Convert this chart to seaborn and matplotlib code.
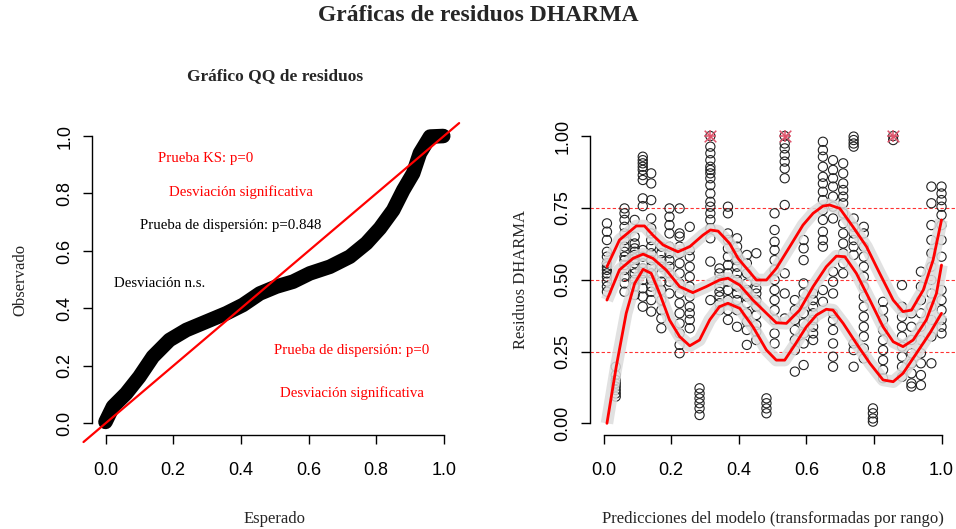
import matplotlib
matplotlib.use("Agg")
import matplotlib.pyplot as plt
import seaborn as sns
import pandas as pd

qq_expected = [0.0, 0.022, 0.061, 0.10, 0.14, 0.189, 0.239, 0.298, 0.357, 0.406,
               0.456, 0.505, 0.554, 0.604, 0.663, 0.722, 0.771, 0.811, 0.85, 0.88,
               0.909, 0.929, 0.959, 0.998]
qq_observed = [0.005, 0.058, 0.104, 0.162, 0.232, 0.29, 0.325, 0.354, 0.383, 0.412,
               0.452, 0.476, 0.493, 0.522, 0.545, 0.58, 0.627, 0.679, 0.742, 0.812,
               0.87, 0.94, 0.998, 1.0]

# residuals vs rank-transformed predictions: one column of residuals per prediction
pred_x = [0.010, 0.036, 0.062, 0.092, 0.116, 0.141, 0.171, 0.195, 0.225, 0.255,
          0.284, 0.316, 0.343, 0.368, 0.395, 0.424, 0.452, 0.482, 0.506, 0.536,
          0.566, 0.592, 0.620, 0.649, 0.679, 0.709, 0.740, 0.770, 0.797, 0.827,
          0.857, 0.883, 0.911, 0.939, 0.970, 1.0]
resid_cols = [
    [0.696, 0.667, 0.638, 0.597, 0.58, 0.557, 0.545, 0.534, 0.522, 0.51, 0.493, 0.476, 0.458],
    [0.197, 0.168, 0.151, 0.139, 0.128, 0.116, 0.104, 0.093],
    [0.748, 0.731, 0.708, 0.684, 0.661, 0.638, 0.615, 0.597, 0.58, 0.568, 0.551, 0.534, 0.51, 0.487, 0.458],
    [0.708, 0.65, 0.626, 0.609, 0.597, 0.586, 0.574, 0.557, 0.539, 0.522, 0.499, 0.476, 0.447],
    [0.928, 0.916, 0.905, 0.893, 0.882, 0.864, 0.847, 0.783, 0.756, 0.603, 0.58, 0.557, 0.539, 0.522, 0.499, 0.47, 0.441, 0.406],
    [0.87, 0.835, 0.777, 0.713, 0.679, 0.661, 0.638, 0.615, 0.592, 0.568, 0.545, 0.522, 0.499, 0.476, 0.458, 0.429, 0.389],
    [0.615, 0.592, 0.568, 0.545, 0.522, 0.493, 0.464, 0.429, 0.394, 0.365, 0.331],
    [0.748, 0.719, 0.69, 0.661, 0.615, 0.592, 0.568, 0.545, 0.522, 0.493, 0.452],
    [0.748, 0.661, 0.65, 0.615, 0.592, 0.557, 0.522, 0.487, 0.452, 0.418, 0.383, 0.348, 0.313, 0.273, 0.244],
    [0.684, 0.603, 0.58, 0.545, 0.51, 0.476, 0.441, 0.406, 0.383, 0.36, 0.331],
    [0.122, 0.104, 0.087, 0.07, 0.052, 0.029],
    [1.0, 0.963, 0.94, 0.916, 0.893, 0.882, 0.87, 0.853, 0.829, 0.8, 0.771, 0.754, 0.731, 0.708, 0.679, 0.644, 0.563, 0.429],
    [0.539, 0.522, 0.499, 0.476, 0.458, 0.441, 0.418, 0.394],
    [0.754, 0.731, 0.661, 0.638, 0.609, 0.58, 0.551, 0.522, 0.493, 0.464, 0.429, 0.394, 0.36],
    [0.644, 0.615, 0.592, 0.568, 0.545, 0.522, 0.499, 0.476, 0.452, 0.429, 0.394, 0.336],
    [0.586, 0.557, 0.522, 0.487, 0.464, 0.441, 0.418, 0.383, 0.354, 0.325, 0.273],
    [0.592, 0.493, 0.47, 0.452, 0.429, 0.406, 0.377, 0.342, 0.319, 0.29],
    [0.087, 0.07, 0.052, 0.035],
    [0.731, 0.673, 0.632, 0.603, 0.568, 0.534, 0.499, 0.464, 0.429, 0.394, 0.36, 0.313, 0.278],
    [1.0, 0.974, 0.957, 0.934, 0.911, 0.887, 0.853, 0.76, 0.522, 0.452, 0.365],
    [0.429, 0.394, 0.36, 0.325, 0.29, 0.255, 0.18],
    [0.638, 0.609, 0.568, 0.487, 0.452, 0.418, 0.383, 0.348, 0.313, 0.278, 0.203],
    [0.452, 0.429, 0.406, 0.383, 0.36, 0.336, 0.313, 0.29],
    [0.98, 0.951, 0.928, 0.893, 0.858, 0.835, 0.806, 0.777, 0.742, 0.708, 0.667, 0.638, 0.615, 0.464, 0.423],
    [0.916, 0.882, 0.853, 0.824, 0.789, 0.754, 0.713, 0.528, 0.493, 0.452, 0.383, 0.36, 0.325, 0.278, 0.232, 0.197],
    [0.905, 0.87, 0.835, 0.812, 0.789, 0.766, 0.731, 0.696, 0.661, 0.626, 0.592, 0.557, 0.522],
    [0.998, 0.986, 0.974, 0.963, 0.713, 0.684, 0.661, 0.638, 0.615, 0.586, 0.278, 0.255, 0.197],
    [0.684, 0.661, 0.615, 0.58, 0.545, 0.51, 0.476, 0.441, 0.406, 0.371, 0.336, 0.302, 0.261, 0.226],
    [0.052, 0.035, 0.017, 0.006],
    [0.423, 0.394, 0.36, 0.325, 0.29, 0.255, 0.22, 0.186, 0.157],
    [1.0, 0.986],
    [0.481, 0.406, 0.371, 0.336, 0.302, 0.267, 0.232, 0.197, 0.162],
    [0.383, 0.336, 0.29, 0.244, 0.209, 0.174, 0.139, 0.128],
    [0.528, 0.476, 0.429, 0.383, 0.336, 0.29, 0.244, 0.209, 0.168, 0.133],
    [0.824, 0.766, 0.69, 0.638, 0.592, 0.545, 0.499, 0.452, 0.406, 0.36, 0.302, 0.209],
    [0.824, 0.8, 0.777, 0.754, 0.725, 0.69, 0.638, 0.58, 0.464, 0.429, 0.394, 0.36, 0.336, 0.313],
]
outlier_x = [0.316, 0.536, 0.857]
outlier_y = [1.0, 1.0, 1.0]

# quantile regression curves (0.75, 0.5, 0.25)
q75_x = [0.010, 0.047, 0.097, 0.121, 0.146, 0.176, 0.220, 0.255, 0.294, 0.316, 0.339,
         0.373, 0.398, 0.427, 0.452, 0.482, 0.511, 0.551, 0.590, 0.620, 0.649, 0.669,
         0.699, 0.738, 0.778, 0.817, 0.857, 0.886, 0.911, 0.946, 0.975, 1.0]
q75_y = [0.545, 0.638, 0.687, 0.687, 0.655, 0.621, 0.597, 0.615, 0.655, 0.673, 0.669,
         0.626, 0.574, 0.534, 0.499, 0.499, 0.539, 0.615, 0.69, 0.731, 0.756, 0.76,
         0.748, 0.684, 0.615, 0.522, 0.429, 0.389, 0.394, 0.464, 0.568, 0.708]
q50_x = [0.010, 0.047, 0.087, 0.117, 0.146, 0.185, 0.225, 0.264, 0.304, 0.343, 0.368,
         0.403, 0.442, 0.482, 0.511, 0.541, 0.580, 0.620, 0.659, 0.689, 0.714, 0.748,
         0.788, 0.827, 0.857, 0.886, 0.916, 0.955, 0.985, 1.0]
q50_y = [0.429, 0.534, 0.574, 0.589, 0.574, 0.534, 0.476, 0.455, 0.476, 0.499, 0.505,
         0.481, 0.429, 0.383, 0.35, 0.348, 0.394, 0.476, 0.545, 0.582, 0.58, 0.522,
         0.429, 0.336, 0.284, 0.267, 0.29, 0.36, 0.452, 0.551]
q25_x = [0.010, 0.0375, 0.067, 0.092, 0.117, 0.141, 0.166, 0.195, 0.225, 0.255, 0.284,
         0.314, 0.343, 0.368, 0.403, 0.442, 0.482, 0.511, 0.536, 0.566, 0.600, 0.630,
         0.659, 0.679, 0.709, 0.748, 0.788, 0.827, 0.857, 0.886, 0.926, 0.965, 1.0]
q25_y = [0.0, 0.197, 0.383, 0.487, 0.536, 0.522, 0.452, 0.36, 0.302, 0.27, 0.29,
         0.36, 0.406, 0.418, 0.4, 0.336, 0.255, 0.22, 0.22, 0.273, 0.336, 0.377,
         0.397, 0.394, 0.348, 0.278, 0.209, 0.151, 0.145, 0.174, 0.244, 0.313, 0.383]
ref_levels = [0.25, 0.5, 0.75]

resid_df = pd.DataFrame({
    "pred": [x for x, col in zip(pred_x, resid_cols) for _ in col],
    "resid": [y for col in resid_cols for y in col],
})

sns.set_style("ticks")
plt.rcParams["font.family"] = ["Liberation Serif", "DejaVu Serif"]
SANS = ["Liberation Sans", "DejaVu Sans"]
RED = "#FF0000"
STAR = "#DF536B"

fig = plt.figure(figsize=(9.56, 5.29), dpi=100)
ax1 = fig.add_axes([0.0962, 0.178, 0.3823, 0.5866])
ax2 = fig.add_axes([0.6172, 0.178, 0.3818, 0.5866])

# ---- left: QQ plot
ax1.plot([-0.065, 1.045], [-0.065, 1.045], color=RED, lw=1.6, clip_on=False, zorder=3)
sns.lineplot(x=qq_expected, y=qq_observed, ax=ax1, color="black", linewidth=10.5,
             sort=False, solid_capstyle="round", zorder=2)
ax1.set_xlim(-0.04, 1.04)
ax1.set_ylim(-0.04, 1.04)
ax1.set_xticks([0, 0.2, 0.4, 0.6, 0.8, 1.0])
ax1.set_yticks([0, 0.2, 0.4, 0.6, 0.8, 1.0])
ax1.set_xticklabels(["0.0", "0.2", "0.4", "0.6", "0.8", "1.0"])
ax1.set_yticklabels(["0.0", "0.2", "0.4", "0.6", "0.8", "1.0"])
ax1.set_xlabel("Esperado", fontsize=12, labelpad=23)
ax1.set_ylabel("Observado", fontsize=12, labelpad=20)
ax1.text(0.5, 1.156, "Gráfico QQ de residuos", transform=ax1.transAxes,
         ha="center", va="center", fontsize=12.5, fontweight="bold")

txt = dict(fontsize=10.7, ha="center", va="center")
ax1.text(0.296, 0.923, "Prueba KS: p=0", color=RED, **txt)
ax1.text(0.40, 0.805, "Desviación significativa", color=RED, **txt)
ax1.text(0.37, 0.687, "Prueba de dispersión: p=0.848", color="black", **txt)
ax1.text(0.16, 0.488, "Desviación n.s.", color="black", **txt)
ax1.text(0.728, 0.255, "Prueba de dispersión: p=0", color=RED, **txt)
ax1.text(0.728, 0.105, "Desviación significativa", color=RED, **txt)

# ---- right: residuals vs predicted
for lvl in ref_levels:
    ax2.axhline(lvl, color=RED, lw=0.8, ls=(0, (3, 2)), alpha=0.8, zorder=1)
sns.scatterplot(data=resid_df, x="pred", y="resid", ax=ax2, marker="o",
                facecolor="none", edgecolor="#222222", s=44, linewidth=0.8, zorder=2)
for qx, qy in [(q75_x, q75_y), (q50_x, q50_y), (q25_x, q25_y)]:
    ax2.plot(qx, qy, color="#dcdcdc", lw=9, alpha=0.85, solid_capstyle="butt", zorder=3)
    sns.lineplot(x=qx, y=qy, ax=ax2, color=RED, linewidth=2, sort=False, zorder=4)
for mk in ("+", "x"):
    sns.scatterplot(x=outlier_x, y=outlier_y, ax=ax2, marker=mk, color=STAR,
                    s=70, linewidth=1.1, zorder=5)
ax2.set_xlim(-0.04, 1.04)
ax2.set_ylim(-0.04, 1.04)
ax2.set_xticks([0, 0.2, 0.4, 0.6, 0.8, 1.0])
ax2.set_xticklabels(["0.0", "0.2", "0.4", "0.6", "0.8", "1.0"])
ax2.set_yticks([0, 0.25, 0.5, 0.75, 1.0])
ax2.set_yticklabels(["0.00", "0.25", "0.50", "0.75", "1.00"])
ax2.set_xlabel("Predicciones del modelo (transformadas por rango)", fontsize=12, labelpad=23)
ax2.set_ylabel("Residuos DHARMA", fontsize=12, labelpad=18)

for ax in (ax1, ax2):
    sns.despine(ax=ax)
    ax.spines["left"].set_bounds(0, 1)
    ax.spines["bottom"].set_bounds(0, 1)
    for s in ("left", "bottom"):
        ax.spines[s].set_linewidth(1.0)
        ax.spines[s].set_color("black")
    ax.tick_params(axis="both", length=6.5, width=1.0, color="black",
                   labelsize=13, labelcolor="black")
    ax.tick_params(axis="x", pad=13)
    ax.tick_params(axis="y", pad=7)
    for lab in ax.get_xticklabels() + ax.get_yticklabels():
        lab.set_fontfamily(SANS)
    for lab in ax.get_yticklabels():
        lab.set_rotation(90)
        lab.set_va("center")
    ax.grid(False)
    ax.set_facecolor("white")

fig.suptitle("Gráficas de residuos DHARMA", y=0.97, va="center",
             fontsize=17, fontweight="bold")

fig.savefig("out.png", dpi=100, facecolor="white")
